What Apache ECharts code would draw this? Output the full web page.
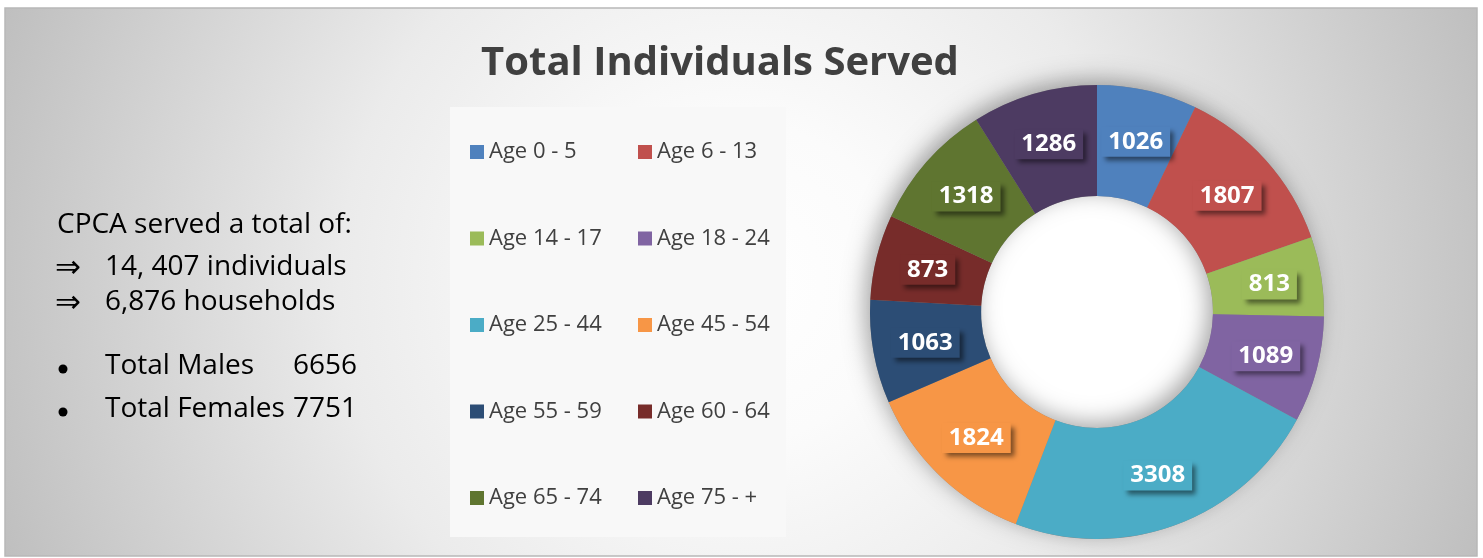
<!DOCTYPE html>
<html>
<head>
<meta charset="utf-8">
<script src="https://cdn.jsdelivr.net/npm/echarts@6/dist/echarts.min.js"></script>
<style>
  html, body { margin: 0; padding: 0; background: #ffffff; }
  #chart { width: 1483px; height: 558px; }
</style>
</head>
<body>
<div id="chart"></div>
<script>
// ---- data ----
const chartTitle = 'Total Individuals Served';
const categories = ['Age 0 - 5', 'Age 6 - 13', 'Age 14 - 17', 'Age 18 - 24', 'Age 25 - 44',
                    'Age 45 - 54', 'Age 55 - 59', 'Age 60 - 64', 'Age 65 - 74', 'Age 75 - +'];
const values = [1026, 1807, 813, 1089, 3308, 1824, 1063, 873, 1318, 1286];
const colors = ['#4F81BD', '#C0504D', '#9BBB59', '#8064A2', '#4BACC6',
                '#F79646', '#2C4D75', '#772C2A', '#5F7530', '#4D3B62'];
const summaryHeader = 'CPCA served a total of:';
const arrowLines = ['14, 407 individuals', '6,876 households'];
const bulletLabels = ['Total Males', 'Total Females'];
const bulletValues = ['6656', '7751'];

// ---- chart ----
const chart = echarts.init(document.getElementById('chart'), null, { renderer: 'canvas' });
const FONT = '"Open Sans", "DejaVu Sans", sans-serif';
const total = values.reduce((a, b) => a + b, 0);

const pieData = categories.map((name, i) => ({
  name: name,
  value: values[i],
  itemStyle: { color: colors[i] },
  label: { backgroundColor: colors[i] }
}));

const leftCol = categories.filter((_, i) => i % 2 === 0);
const rightCol = categories.filter((_, i) => i % 2 === 1);

const legendBase = {
  orient: 'vertical',
  top: 141,
  padding: 0,
  itemWidth: 14,
  itemHeight: 14,
  itemGap: 64.5,
  icon: 'rect',
  selectedMode: false,
  textStyle: { fontFamily: FONT, fontSize: 22, color: '#404040', lineHeight: 20 }
};

const center = [1097, 312];
const radius = [116, 227];

const graphics = [
  {
    type: 'rect', z: -10, silent: true,
    shape: { x: 5, y: 8, width: 1472, height: 548 },
    style: {
      fill: new echarts.graphic.RadialGradient(740, 282, 800, [
        { offset: 0, color: '#ffffff' },
        { offset: 0.2, color: '#fbfbfb' },
        { offset: 0.5, color: '#ebebeb' },
        { offset: 1, color: '#bdbdbd' }
      ], true),
      stroke: '#b8b8b8', lineWidth: 1.5
    }
  },
  {
    type: 'rect', z: -9, silent: true,
    shape: { x: 450, y: 107, width: 336, height: 430 },
    style: { fill: '#f8f8f8' }
  },
  {
    type: 'circle', z: -8, silent: true,
    shape: { cx: center[0], cy: center[1], r: radius[0] + 2 },
    style: { fill: '#ffffff' }
  },
  {
    type: 'text', silent: true,
    x: 720, y: 64,
    style: { text: chartTitle, fontFamily: FONT, fontSize: 40, fontWeight: 'bold',
             fill: '#404040', align: 'center', verticalAlign: 'middle' }
  },
  {
    type: 'text', silent: true, x: 57, y: 225,
    style: { text: summaryHeader, fontFamily: FONT, fontSize: 28, fill: '#000',
             align: 'left', verticalAlign: 'middle' }
  }
];
const arrowY = [267, 302];
arrowLines.forEach((t, i) => {
  graphics.push({
    type: 'text', silent: true, x: 55, y: arrowY[i] + 2,
    style: { text: '\u21D2', fontFamily: '"DejaVu Sans", sans-serif', fontSize: 31, fill: '#000',
             align: 'left', verticalAlign: 'middle' }
  });
  graphics.push({
    type: 'text', silent: true, x: 105, y: arrowY[i],
    style: { text: t, fontFamily: FONT, fontSize: 28, fill: '#000',
             align: 'left', verticalAlign: 'middle' }
  });
});
const bulletY = [366, 409];
bulletLabels.forEach((t, i) => {
  graphics.push({
    type: 'circle', silent: true,
    shape: { cx: 63, cy: bulletY[i] + 3, r: 4.5 },
    style: { fill: '#000' }
  });
  graphics.push({
    type: 'text', silent: true, x: 105, y: bulletY[i],
    style: { text: t, fontFamily: FONT, fontSize: 28, fill: '#000',
             align: 'left', verticalAlign: 'middle' }
  });
  graphics.push({
    type: 'text', silent: true, x: 293, y: bulletY[i],
    style: { text: bulletValues[i], fontFamily: FONT, fontSize: 28, fill: '#000',
             align: 'left', verticalAlign: 'middle' }
  });
});

chart.setOption({
  animation: false,
  backgroundColor: '#ffffff',
  graphic: graphics,
  legend: [
    Object.assign({}, legendBase, { left: 470, data: leftCol }),
    Object.assign({}, legendBase, { left: 638, data: rightCol })
  ],
  series: [
    {
      name: 'shadow',
      type: 'pie',
      silent: true,
      z: 1,
      center: center,
      radius: radius,
      startAngle: 90,
      label: { show: false },
      labelLine: { show: false },
      data: [{ value: total, name: '' }],
      itemStyle: {
        color: '#888888',
        shadowBlur: 22,
        shadowColor: 'rgba(0,0,0,0.35)',
        shadowOffsetX: -5,
        shadowOffsetY: -5
      }
    },
    {
      name: chartTitle,
      type: 'pie',
      z: 2,
      center: center,
      radius: radius,
      startAngle: 90,
      clockwise: true,
      avoidLabelOverlap: false,
      itemStyle: { borderWidth: 0 },
      label: {
        show: true,
        position: 'inside',
        formatter: '{c}',
        color: '#ffffff',
        fontFamily: FONT,
        fontSize: 24,
        fontWeight: 'bold',
        lineHeight: 25,
        padding: [3, 7, 2, 7],
        shadowColor: 'rgba(0,0,0,0.5)',
        shadowBlur: 5,
        shadowOffsetX: 4,
        shadowOffsetY: 4
      },
      labelLine: { show: false },
      emphasis: { disabled: true },
      data: pieData
    }
  ]
});
</script>
</body>
</html>
